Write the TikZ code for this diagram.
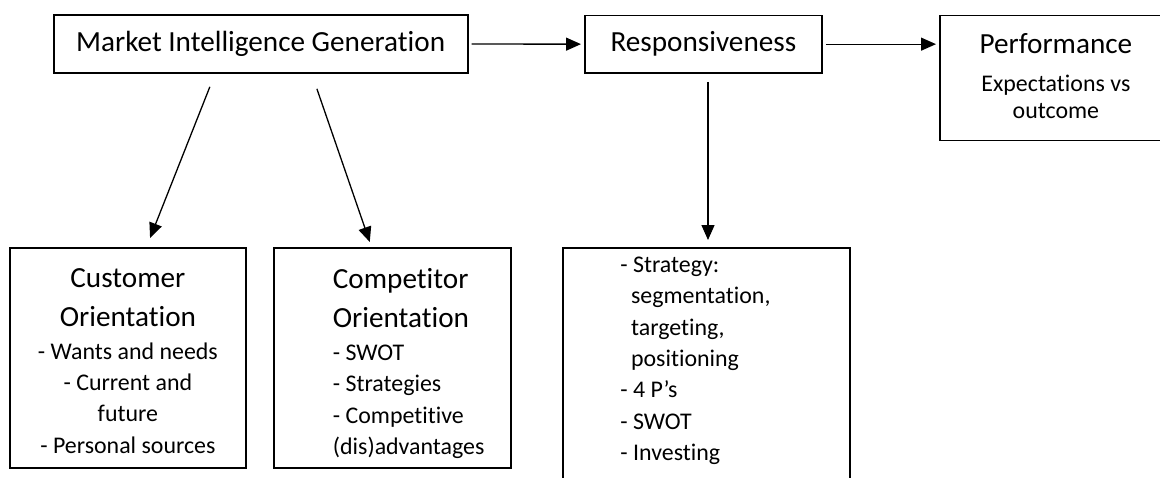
\documentclass[tikz,border=0pt]{standalone}
\usepackage{fontspec}
\setmainfont{Carlito}[Ligatures={NoCommon}]
\usetikzlibrary{arrows.meta}
\newcommand{\headfont}{\fontsize{29.2pt}{39pt}\selectfont}
\newcommand{\itemfont}{\fontsize{23.9pt}{31.3pt}\selectfont}
\tikzstyle{topbox} = [draw=black, line width=1.8pt, rectangle, inner sep=0pt,
    anchor=north west, font=\headfont]
\tikzstyle{listbox} = [draw=black, line width=1.8pt, rectangle, inner sep=0pt,
    anchor=north west]
\tikzstyle{link} = [line width=1.3pt, -{Triangle[length=15pt, width=13pt]}]

\begin{document}
\begin{tikzpicture}[x=1pt, y=-1pt]
\useasboundingbox (0,0) rectangle (1160,477);
\node [topbox, minimum width=414pt, minimum height=57.7pt] (mig) at (52.7,14.3)
    {Market Intelligence Generation};
\node [topbox, minimum width=237pt, minimum height=57.5pt] (resp) at (584,14.5)
    {Responsiveness};
\node [listbox] (perf) at (939,14.5){
    \begin{minipage}[c][125pt][t]{232pt}
    \centering
    \vspace*{18pt}
    {\headfont Performance\par}
    \vspace{6.7pt}
    {\itemfont Expectations vs\\[-4.3pt] outcome\par}
    \end{minipage}
};
\node [listbox] (cust) at (9,247){
    \begin{minipage}[c][220pt][t]{236pt}
    \centering
    \vspace*{20.5pt}
    {\headfont Customer\\ Orientation\par}
    \vspace{1.7pt}
    {\itemfont - Wants and needs\\ - Current and\\ future\\ - Personal sources\par}
    \end{minipage}
};
\node [listbox] (comp) at (273,247){
    \begin{minipage}[c][220pt][t]{237pt}
    \raggedright\leftskip=59pt
    \vspace*{20.5pt}
    {\headfont Competitor\\ Orientation\par}
    \vspace{1.7pt}
    {\itemfont - SWOT\\ - Strategies\\ - Competitive\\ (dis)advantages\par}
    \end{minipage}
};
\node [listbox] (tasks) at (562,247){
    \begin{minipage}[c][260pt][t]{287pt}
    \raggedright\leftskip=57.5pt
    \vspace*{9.2pt}
    {\itemfont - Strategy:\\ \hspace*{10.7pt}segmentation,\\ \hspace*{10.7pt}targeting,\\
    \hspace*{10.7pt}positioning\\ - 4 P’s\\ - SWOT\\ - Investing\par}
    \end{minipage}
};
\draw [link, shorten <=3pt, shorten >=3pt] (mig.east) -- (resp.west);
\draw [link, shorten <=3pt, shorten >=3pt] (resp.east) -- (resp.east -| perf.west);
\draw [link, shorten <=14pt, shorten >=9.7pt] ([xshift=162.3pt]mig.south west)
    -- ([xshift=137.5pt]cust.north west);
\draw [link, shorten <=15.9pt, shorten >=5.3pt] ([xshift=259pt]mig.south west)
    -- ([xshift=98.5pt]comp.north west);
\draw [link, shorten <=8pt, shorten >=7pt] ([xshift=124pt]resp.south west)
    -- ([xshift=146pt]tasks.north west);
\end{tikzpicture}
\end{document}
